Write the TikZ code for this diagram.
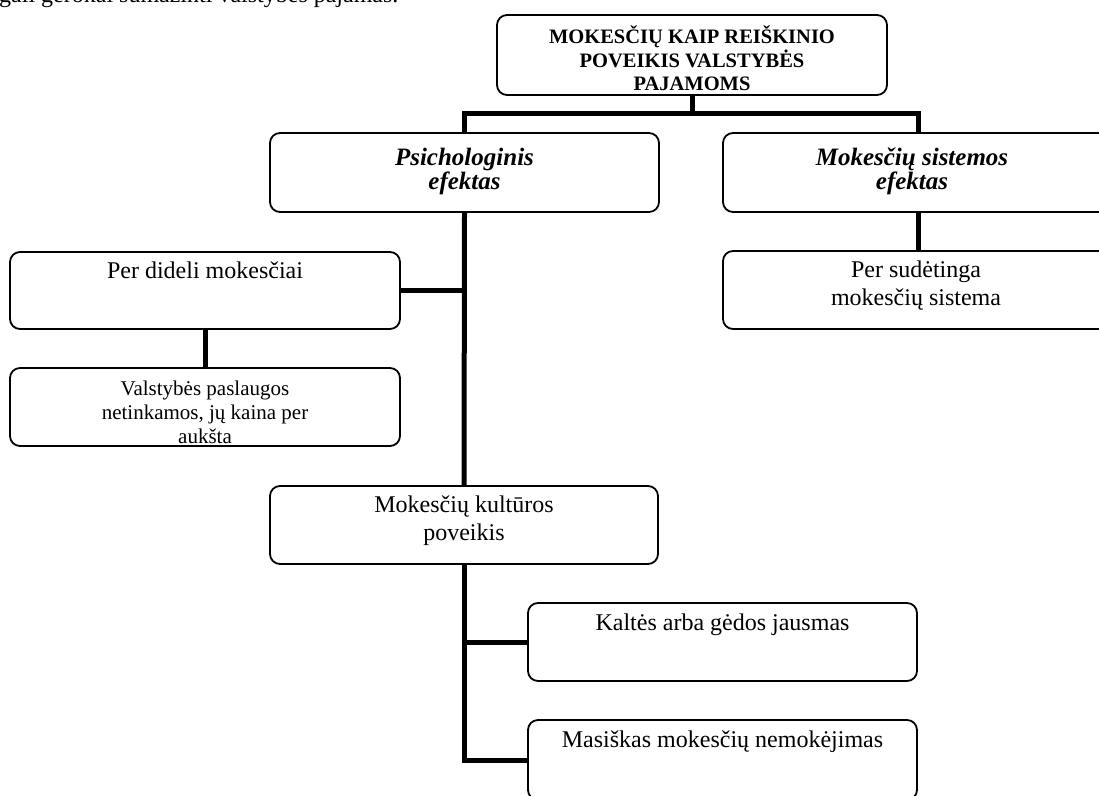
\documentclass[tikz,border=0pt]{standalone}
\usepackage{fontspec}
\setmainfont{Liberation Serif}
% centred multi-line text whose baseline is that of its first line
\newcommand\stackrows[1]{\begin{tabular}[t]{@{}c@{}}#1\end{tabular}}
\begin{document}
\begin{tikzpicture}[x=1pt,y=-1pt,
  box/.style={draw, line width=1.8pt, rounded corners=10pt, inner sep=0pt, fill=white},
  conn/.style={line width=5pt, line join=miter},
  txt/.style={inner sep=0pt, anchor=base, font=\fontsize{24}{28}\selectfont},
  head/.style={inner sep=0pt, anchor=base, font=\fontsize{25}{24}\selectfont\bfseries\itshape}]
\clip (0,0) rectangle (1099,795);
\fill[white] (0,0) rectangle (1099,795);

% sentence running above the chart
\node[txt, anchor=base west] (lead) at (-1,2.5) {gali gerokai sumažinti valstybės pajamas.};

% boxes
\node[box, minimum width=390pt, minimum height=80pt] (top) at (692,55) {};
\node[box, minimum width=389pt, minimum height=79pt] (psy) at (464.5,172.5) {};
\node[box, minimum width=390pt, minimum height=79pt] (ms)  at (918,172.5) {};
\node[box, minimum width=390pt, minimum height=77pt] (pd)  at (205,290.5) {};
\node[box, minimum width=390pt, minimum height=78pt] (vs)  at (205,407) {};
\node[box, minimum width=388pt, minimum height=78pt] (mk)  at (464,525) {};
\node[box, minimum width=390pt, minimum height=78pt] (ps)  at (918,290) {};
\node[box, minimum width=389pt, minimum height=78pt] (kal) at (722.5,642) {};
\node[box, minimum width=389pt, minimum height=80pt] (mas) at (722.5,760) {};

% connectors
\coordinate (j1) at (692,113);
\draw[conn] (top.south) -- (j1);
\draw[conn] (psy.north) |- (j1) -| (ms.north);
\draw[conn] (psy.south) -- (mk.north);
\draw[conn] (pd.east) -- (pd.east -| psy.south);
\draw[conn] (pd.south) -- (vs.north);
\draw[conn] (ms.south) -- (ps.north);
\draw[conn] (mk.south) |- (mas.west);
\draw[conn] (kal.west) -- (kal.west -| mk.south);

% labels
\node[txt, font=\fontsize{20.5}{23}\selectfont\bfseries] (ttop) at (692,43)
  {\stackrows{MOKESČIŲ KAIP REIŠKINIO\\POVEIKIS VALSTYBĖS\\PAJAMOMS}};
\node[head] (tpsy) at (464.5,165) {\stackrows{Psichologinis\\efektas}};
\node[head] (tms)  at (912,165)   {\stackrows{Mokesčių sistemos\\efektas}};
\node[txt] (tpd)  at (205,278)   {Per dideli mokesčiai};
\node[txt, font=\fontsize{21}{24}\selectfont] (tvs) at (205,395)
  {\stackrows{Valstybės paslaugos\\netinkamos, jų kaina per\\aukšta}};
\node[txt] (tmk)  at (464,512)   {\stackrows{Mokesčių kultūros\\poveikis}};
\node[txt] (tps)  at (916,277)   {\stackrows{Per sudėtinga\\mokesčių sistema}};
\node[txt] (tkal) at (722.5,630) {Kaltės arba gėdos jausmas};
\node[txt] (tmas) at (722.5,747) {Masiškas mokesčių nemokėjimas};
\end{tikzpicture}
\end{document}
